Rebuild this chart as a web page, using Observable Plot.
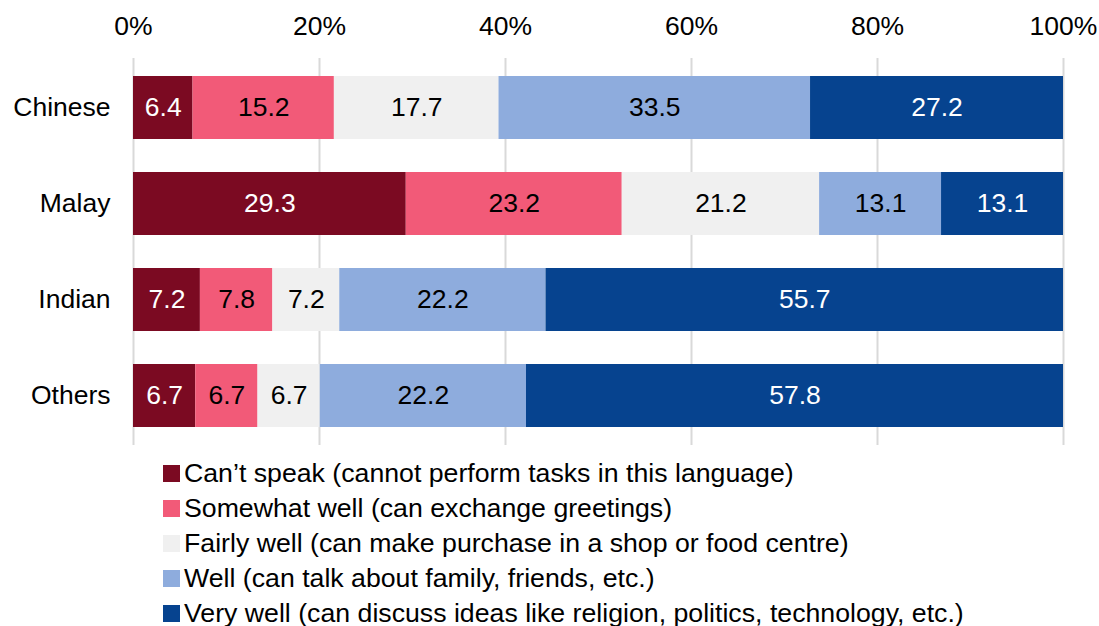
<!DOCTYPE html>
<html>
<head>
<meta charset="utf-8">
<script src="https://cdn.jsdelivr.net/npm/d3@7"></script>
<script src="https://cdn.jsdelivr.net/npm/@observablehq/plot@0.6"></script>
<style>
  body { margin: 0; background: #fff; font-family: "Liberation Sans", Arial, sans-serif; }
  #legend { padding: 6px 0 0 163px; font-size: 26.7px; color: #000; }
  .item { display: flex; align-items: center; height: 35px; white-space: nowrap; }
  .sw { width: 17px; height: 17px; margin-right: 4px; flex: none; }
</style>
</head>
<body>
<div id="chart"></div>
<div id="legend"></div>
<script>
const groups = ["Chinese", "Malay", "Indian", "Others"];
const levels = [
  "Can’t speak (cannot perform tasks in this language)",
  "Somewhat well (can exchange greetings)",
  "Fairly well (can make purchase in a shop or food centre)",
  "Well (can talk about family, friends, etc.)",
  "Very well (can discuss ideas like religion, politics, technology, etc.)"
];
const colors = ["#7B0A22", "#F25A78", "#F0F0F0", "#8EACDD", "#06438F"];
const darkLevels = [levels[0], levels[4]];
const values = {
  Chinese: [6.4, 15.2, 17.7, 33.5, 27.2],
  Malay:   [29.3, 23.2, 21.2, 13.1, 13.1],
  Indian:  [7.2, 7.8, 7.2, 22.2, 55.7],
  Others:  [6.7, 6.7, 6.7, 22.2, 57.8]
};
const xTicks = [0, 0.2, 0.4, 0.6, 0.8, 1];

const data = groups.flatMap(g => levels.map((l, i) => ({group: g, level: l, value: values[g][i]})));

const stackOpts = extra => Plot.stackX({x: "value", y: "group", z: "level", offset: "normalize", ...extra});
const fmt = d3.format(".0%");

const chart = Plot.plot({
  width: 1099,
  height: 450,
  marginTop: 58,
  marginBottom: 5,
  marginLeft: 133,
  marginRight: 36,
  style: {fontFamily: "'Liberation Sans', Arial, sans-serif", fontSize: "26.5px", color: "#000", background: "#fff", overflow: "visible"},
  x: {domain: [0, 1], label: null},
  y: {domain: groups, paddingInner: 0.34, paddingOuter: 0.17, label: null},
  color: {domain: levels, range: colors},
  marks: [
    Plot.ruleX(xTicks, {stroke: "#d9d9d9", strokeWidth: 2}),
    Plot.axisX(xTicks, {anchor: "top", tickSize: 0, tickPadding: 24, tickFormat: fmt, fontSize: 26.5, label: null}),
    Plot.axisY({tickSize: 0, tickPadding: 23, fontSize: 26.5, label: null}),
    Plot.barX(data, stackOpts({fill: "level"})),
    Plot.text(data, stackOpts({text: d => darkLevels.includes(d.level) ? "" : d.value.toFixed(1), fill: "black", fontSize: 26.5})),
    Plot.text(data, stackOpts({text: d => darkLevels.includes(d.level) ? d.value.toFixed(1) : "", fill: "white", fontSize: 26.5}))
  ]
});
document.getElementById("chart").appendChild(chart);

const legend = document.getElementById("legend");
levels.forEach((l, i) => {
  const item = document.createElement("div");
  item.className = "item";
  const sw = document.createElement("span");
  sw.className = "sw";
  sw.style.background = colors[i];
  const t = document.createElement("span");
  t.textContent = l;
  item.appendChild(sw);
  item.appendChild(t);
  legend.appendChild(item);
});
</script>
</body>
</html>
